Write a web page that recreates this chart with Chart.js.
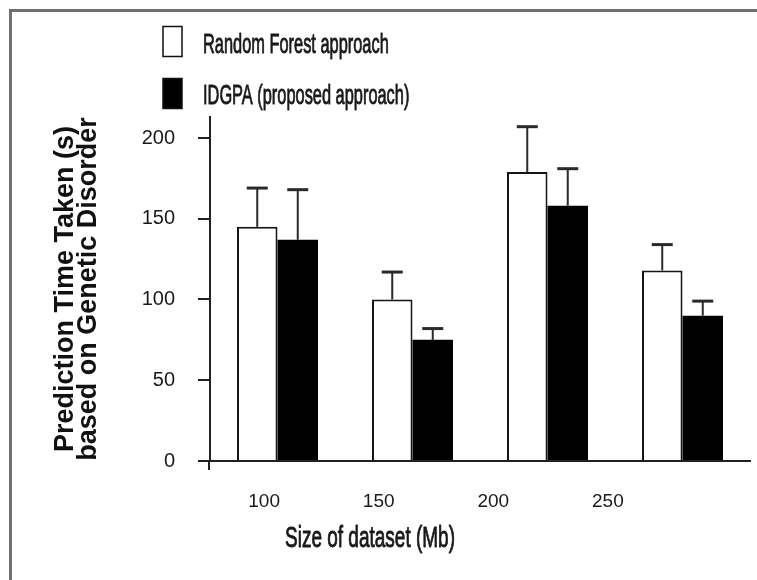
<!DOCTYPE html>
<html>
<head>
<meta charset="utf-8">
<title>Prediction time by dataset size</title>
<script src="https://cdn.jsdelivr.net/npm/chart.js@4.4.1/dist/chart.umd.min.js"></script>
<style>
  html, body { margin: 0; padding: 0; background: #ffffff; }
  #wrap { position: relative; width: 757px; height: 580px; overflow: hidden; }
  #frame { position: absolute; left: 9px; top: 9px; right: -10px; bottom: -10px;
           border-left: 3px solid #707070; border-top: 3px solid #707070; }
  #chart { position: absolute; left: 0; top: 0; }
</style>
</head>
<body>
<div id="wrap">
  <div id="frame"></div>
  <canvas id="chart" width="757" height="580"></canvas>
</div>
<script>
// Dataset sizes (Mb) on the x axis
const sizes = ['100', '150', '200', '250'];

// Mean prediction time (s) and the upper error amount for each approach
const randomForest    = [145, 100, 179, 118];
const randomForestErr = [24, 17, 28, 16];
const idgpa           = [137, 75, 158, 90];
const idgpaErr        = [31, 7, 23, 9];

// Labelled values on the y axis
const yTicks = [0, 50, 100, 150, 200];

const xTitle = 'Size of dataset (Mb)';

const SANS = '"Liberation Sans", Arial, sans-serif';
const INK = '#1a1a1a';

// Upper error whiskers with a cap, drawn on top of each bar
const errorBars = {
  id: 'errorBars',
  afterDatasetsDraw(chart) {
    const { ctx, scales: { y } } = chart;
    chart.data.datasets.forEach((ds, di) => {
      const meta = chart.getDatasetMeta(di);
      meta.data.forEach((bar, i) => {
        const top = y.getPixelForValue(ds.data[i] + ds.errors[i]);
        ctx.save();
        ctx.strokeStyle = '#2a2a2a';
        ctx.lineWidth = 2;
        ctx.beginPath();
        ctx.moveTo(bar.x, bar.y);
        ctx.lineTo(bar.x, top);
        ctx.stroke();
        ctx.lineWidth = 3;
        ctx.beginPath();
        ctx.moveTo(bar.x - 10.5, top);
        ctx.lineTo(bar.x + 10.5, top);
        ctx.stroke();
        ctx.restore();
      });
    });
  }
};

// Short extension of the y axis line below the baseline
const axisStub = {
  id: 'axisStub',
  afterDraw(chart) {
    const { ctx, chartArea, scales: { y } } = chart;
    ctx.save();
    ctx.strokeStyle = '#222';
    ctx.lineWidth = 2;
    ctx.beginPath();
    ctx.moveTo(y.right - 1, chartArea.bottom);
    ctx.lineTo(y.right - 1, chartArea.bottom + 9);
    ctx.stroke();
    ctx.restore();
  }
};

// Condensed text helper: draws a string squeezed horizontally, slightly heavier
function condensedText(ctx, text, x, baseline, size, squeeze) {
  ctx.save();
  ctx.font = size + 'px ' + SANS;
  ctx.fillStyle = INK;
  ctx.strokeStyle = INK;
  ctx.lineWidth = 0.9;
  ctx.lineJoin = 'round';
  ctx.textBaseline = 'alphabetic';
  ctx.translate(x, baseline);
  ctx.scale(squeeze, 1);
  ctx.fillText(text, 0, 0);
  ctx.strokeText(text, 0, 0);
  ctx.restore();
}

// Stacked legend above the plot and the x axis caption below it
const captions = {
  id: 'captions',
  afterDraw(chart) {
    const { ctx, chartArea } = chart;
    chart.data.datasets.forEach((ds, i) => {
      const boxTop = 26.5 + i * 52;
      ctx.save();
      ctx.fillStyle = ds.backgroundColor;
      ctx.fillRect(163, boxTop, 19, 30);
      ctx.strokeStyle = '#111';
      ctx.lineWidth = 1.5;
      ctx.strokeRect(163, boxTop, 19, 30);
      ctx.restore();
      condensedText(ctx, ds.label, 203, 52.5 + i * 51.5, 28, 0.585);
    });
    condensedText(ctx, xTitle, chartArea.left + 75, chartArea.bottom + 86, 29, 0.655);
  }
};

new Chart(document.getElementById('chart'), {
  type: 'bar',
  data: {
    labels: sizes,
    datasets: [
      {
        label: 'Random Forest approach',
        data: randomForest,
        errors: randomForestErr,
        backgroundColor: '#ffffff',
        borderColor: '#151515',
        borderWidth: 2,
        borderSkipped: 'bottom'
      },
      {
        label: 'IDGPA (proposed approach)',
        data: idgpa,
        errors: idgpaErr,
        backgroundColor: '#000000',
        borderColor: '#000000',
        borderWidth: 0
      }
    ]
  },
  options: {
    responsive: false,
    animation: false,
    devicePixelRatio: 1,
    layout: { padding: { left: 40, top: 117, right: 7, bottom: 0 } },
    plugins: { legend: { display: false }, tooltip: { enabled: false } },
    datasets: { bar: { barPercentage: 1, categoryPercentage: 0.6 } },
    scales: {
      x: { display: false, offset: true },
      // label axis for the dataset sizes, spaced independently of the bar groups
      xl: {
        type: 'linear',
        position: 'bottom',
        offset: false,
        bounds: 'data',
        min: -0.472,
        max: 4.24,
        afterBuildTicks: (axis) => { axis.ticks = sizes.map((_, i) => ({ value: i })); },
        afterFit: (scale) => { scale.height = 119; },
        ticks: {
          autoSkip: false,
          maxRotation: 0,
          padding: 29,
          color: INK,
          font: { family: SANS, size: 19 },
          callback: (v) => sizes[v]
        },
        grid: { offset: false, drawOnChartArea: false, drawTicks: false },
        border: { display: true, color: '#222', width: 2 },
        title: { display: false }
      },
      y: {
        min: 0,
        max: 213,
        afterBuildTicks: (axis) => { axis.ticks = yTicks.map(v => ({ value: v })); },
        afterFit: (scale) => { scale.width = 170; },
        ticks: { padding: 23, color: INK, font: { family: SANS, size: 20 } },
        grid: { drawOnChartArea: false, drawTicks: true, tickLength: 12, color: '#222', lineWidth: 2 },
        border: { display: true, color: '#222', width: 2 },
        title: {
          display: true,
          text: ['Prediction Time Taken (s)', 'based on Genetic Disorder'],
          color: '#111',
          font: { family: SANS, size: 27, weight: 'bold', lineHeight: '23px' },
          padding: { top: 14, bottom: 0 }
        }
      }
    }
  },
  plugins: [errorBars, axisStub, captions]
});
</script>
</body>
</html>
